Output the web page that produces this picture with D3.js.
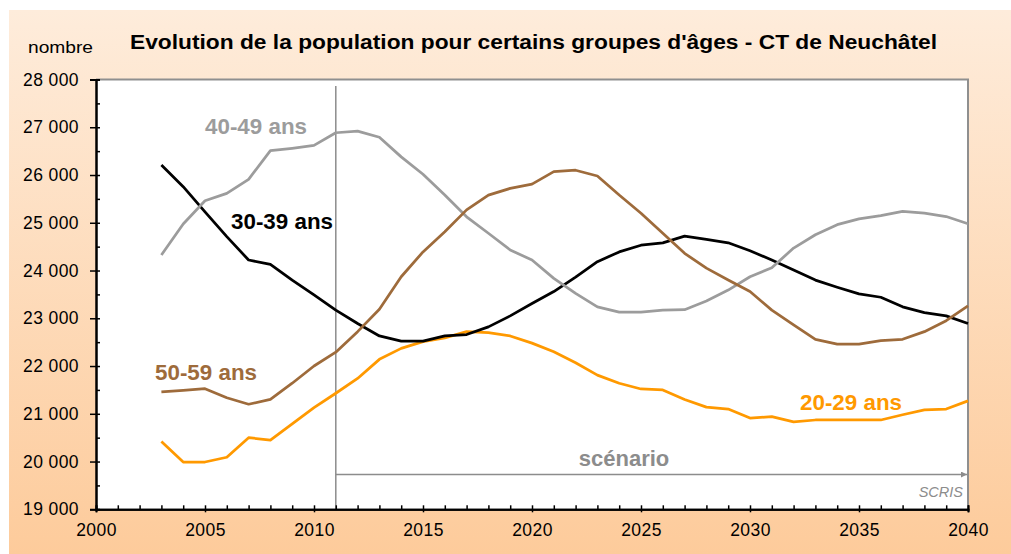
<!DOCTYPE html>
<html>
<head>
    <meta charset="utf-8">
    <style>
        body {
            margin: 0;
            background-color: #FFF;
        }
        svg text {
            font-family: "Liberation Sans", Arial, sans-serif;
        }
    </style>
</head>
<body>
<div id="chartArea"></div>
<script src="https://cdnjs.cloudflare.com/ajax/libs/d3/7.8.5/d3.min.js"></script>

<script>
    /* -----------------------------------
        data
    ----------------------------------- */
    var years = [2003, 2004, 2005, 2006, 2007, 2008, 2009, 2010, 2011, 2012,
                 2013, 2014, 2015, 2016, 2017, 2018, 2019, 2020, 2021, 2022,
                 2023, 2024, 2025, 2026, 2027, 2028, 2029, 2030, 2031, 2032,
                 2033, 2034, 2035, 2036, 2037, 2038, 2039, 2040];

    var ans20 = [20420, 19990, 19990, 20090, 20500, 20450, 20790, 21130, 21430, 21740,
                 22140, 22370, 22510, 22590, 22720, 22700, 22630, 22480, 22300, 22070,
                 21810, 21640, 21520, 21500, 21300, 21140, 21100, 20910, 20940, 20830,
                 20870, 20870, 20870, 20870, 20980, 21080, 21100, 21270];

    var ans30 = [26210, 25755, 25230, 24710, 24220, 24130, 23800, 23490, 23170, 22890,
                 22630, 22520, 22520, 22630, 22660, 22820, 23050, 23310, 23560, 23860,
                 24185, 24390, 24530, 24580, 24720, 24650, 24580, 24415, 24220, 24010,
                 23800, 23650, 23510, 23440, 23240, 23120, 23050, 22890];

    var ans40 = [24325, 24975, 25460, 25615, 25910, 26510, 26560, 26620, 26885, 26920,
                 26790, 26380, 26015, 25580, 25125, 24780, 24430, 24220, 23835, 23520,
                 23240, 23130, 23130, 23170, 23180, 23360, 23590, 23870, 24060, 24470,
                 24750, 24960, 25080, 25150, 25240, 25200, 25130, 24980];

    var ans50 = [21460, 21490, 21525, 21335, 21200, 21300, 21640, 22000, 22290, 22720,
                 23190, 23870, 24390, 24810, 25270, 25580, 25720, 25810, 26070, 26100,
                 25980, 25580, 25200, 24780, 24360, 24050, 23800, 23560, 23170, 22860,
                 22560, 22460, 22460, 22530, 22560, 22720, 22950, 23260];

    var seriesNames = ["20-29 ans", "30-39 ans", "40-49 ans", "50-59 ans"];
    var seriesColors = ["#FF9900", "#000000", "#9C9C9C", "#9E6B3B"];

    var xTicks = [2000, 2005, 2010, 2015, 2020, 2025, 2030, 2035, 2040];
    var xMinorTicks = [2001, 2002, 2003, 2004, 2006, 2007, 2008, 2009, 2011, 2012, 2013, 2014,
                       2016, 2017, 2018, 2019, 2021, 2022, 2023, 2024, 2026, 2027, 2028, 2029,
                       2031, 2032, 2033, 2034, 2036, 2037, 2038, 2039];
    var yTicks = [19000, 20000, 21000, 22000, 23000, 24000, 25000, 26000, 27000, 28000];
    var yMinorTicks = [19500, 20500, 21500, 22500, 23500, 24500, 25500, 26500, 27500];

    var scenarioStart = 2011;

    /* -----------------------------------
        initialize
    ----------------------------------- */
    var width = 1011, height = 554;

    var svg = d3.select("#chartArea").append("svg")
        .attr("width", width)
        .attr("height", height);

    var defs = svg.append("defs");
    var grad = defs.append("linearGradient")
        .attr("id", "bg")
        .attr("x1", 0).attr("y1", 0).attr("x2", 0).attr("y2", 1);
    grad.append("stop").attr("offset", "0%").attr("stop-color", "#FEECDB");
    grad.append("stop").attr("offset", "100%").attr("stop-color", "#FDCB9B");

    defs.append("marker")
        .attr("id", "arrow")
        .attr("viewBox", "0 0 10 10")
        .attr("refX", 10).attr("refY", 5)
        .attr("markerWidth", 8).attr("markerHeight", 6)
        .attr("markerUnits", "userSpaceOnUse")
        .attr("orient", "auto")
        .append("path")
        .attr("d", "M0,0L10,5L0,10Z")
        .style("fill", "#8C8C8C");

    svg.append("rect")
        .attr("x", 9).attr("y", 10)
        .attr("width", width - 9).attr("height", height - 10)
        .style("fill", "url(#bg)");

    var x = d3.scaleLinear().domain([2000, 2040]).range([96, 968]);
    var y = d3.scaleLinear().domain([19000, 28000]).range([509.3, 79.5]);

    var fr = d3.formatLocale({decimal: ",", thousands: "\u00a0", grouping: [3], currency: ["", ""]});
    var fmt = fr.format(",");

    // plot area
    svg.append("rect")
        .attr("x", x(2000)).attr("y", y(28000))
        .attr("width", x(2040) - x(2000)).attr("height", y(19000) - y(28000))
        .style("fill", "#FFF");

    svg.append("path")
        .attr("d", "M" + x(2000) + "," + y(28000) + "H" + x(2040) + "V" + y(19000))
        .style("fill", "none")
        .style("stroke", "#8F8F8F")
        .style("stroke-width", 2);

    /* -----------------------------------
        scenario marker
    ----------------------------------- */
    svg.append("line")
        .attr("x1", x(scenarioStart)).attr("x2", x(scenarioStart))
        .attr("y1", 86).attr("y2", y(19000))
        .style("stroke", "#8C8C8C")
        .style("stroke-width", 1.5);

    svg.append("line")
        .attr("x1", x(scenarioStart)).attr("x2", x(2040) - 1)
        .attr("y1", 474.5).attr("y2", 474.5)
        .attr("marker-end", "url(#arrow)")
        .style("stroke", "#8C8C8C")
        .style("stroke-width", 1.5);

    svg.append("text")
        .attr("x", 624).attr("y", 466)
        .attr("text-anchor", "middle")
        .style("font-size", "22px")
        .style("font-weight", "bold")
        .style("fill", "#8C8C8C")
        .text("scénario");

    svg.append("text")
        .attr("x", 963).attr("y", 497)
        .attr("text-anchor", "end")
        .style("font-size", "14.5px")
        .style("font-style", "italic")
        .style("fill", "#8C8C8C")
        .text("SCRIS");

    /* -----------------------------------
        lines
    ----------------------------------- */
    var allSeries = [ans20, ans30, ans40, ans50];

    var line = d3.line()
        .x(function(d, i) { return x(years[i]); })
        .y(function(d) { return y(d); });

    svg.selectAll(".serie").data(allSeries)
        .enter().append("path")
        .attr("class", "serie")
        .attr("d", line)
        .style("fill", "none")
        .style("stroke", function(d, i) { return seriesColors[i]; })
        .style("stroke-width", 2.75)
        .style("stroke-linejoin", "round");

    // labels for each series
    var labelPos = [[800, 410], [231, 229], [205, 134], [155, 380]];
    svg.selectAll(".lbl").data(seriesNames)
        .enter().append("text")
        .attr("class", "lbl")
        .attr("x", function(d, i) { return labelPos[i][0]; })
        .attr("y", function(d, i) { return labelPos[i][1]; })
        .attr("textLength", 102)
        .attr("lengthAdjust", "spacingAndGlyphs")
        .style("font-size", "22px")
        .style("font-weight", "bold")
        .style("fill", function(d, i) { return seriesColors[i]; })
        .text(function(d) { return d; });

    /* -----------------------------------
        axes
    ----------------------------------- */
    var yAxisIn = d3.axisLeft(y).tickValues(yTicks.concat(yMinorTicks))
        .tickSize(-4).tickFormat("");
    var yAxis = d3.axisLeft(y).tickValues(yTicks)
        .tickSize(6).tickPadding(11).tickFormat(fmt);

    var xAxisIn = d3.axisBottom(x).tickValues(xTicks.concat(xMinorTicks))
        .tickSize(-4).tickFormat("");
    var xAxis = d3.axisBottom(x).tickValues(xTicks)
        .tickSize(3).tickPadding(11).tickFormat(d3.format("d"));

    [yAxisIn, yAxis].forEach(function(ax) {
        svg.append("g").attr("class", "axis")
            .attr("transform", "translate(" + x(2000) + ",0)")
            .call(ax);
    });
    [xAxisIn, xAxis].forEach(function(ax) {
        svg.append("g").attr("class", "axis")
            .attr("transform", "translate(0," + y(19000) + ")")
            .call(ax);
    });

    svg.selectAll(".axis path.domain")
        .style("stroke", "#000")
        .style("stroke-width", 2);
    svg.selectAll(".axis .tick line")
        .style("stroke", "#000")
        .style("stroke-width", 1.5);
    svg.selectAll(".axis text")
        .style("font-size", "17.5px")
        .style("letter-spacing", "0.4px")
        .style("fill", "#000");

    /* -----------------------------------
        titles
    ----------------------------------- */
    svg.append("text")
        .attr("x", 130).attr("y", 49)
        .attr("textLength", 807)
        .attr("lengthAdjust", "spacingAndGlyphs")
        .style("font-size", "19.5px")
        .style("font-weight", "bold")
        .text("Evolution de la population pour certains groupes d'âges - CT de Neuchâtel");

    svg.append("text")
        .attr("x", 28).attr("y", 53)
        .attr("textLength", 65)
        .attr("lengthAdjust", "spacingAndGlyphs")
        .style("font-size", "16.5px")
        .text("nombre");

</script>
</body>
</html>
